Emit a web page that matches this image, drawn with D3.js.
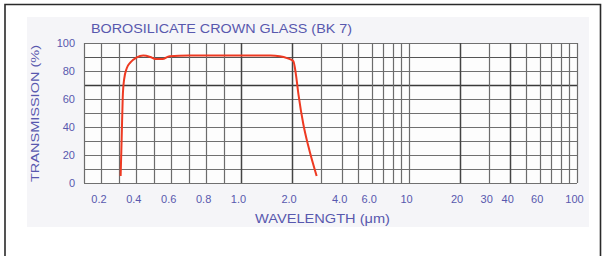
<!DOCTYPE html>
<html>
<head>
<meta charset="utf-8">
<script src="https://cdn.jsdelivr.net/npm/d3@7"></script>
<style>
  body { margin: 0; background: #fff; }
  svg { display: block; }
</style>
</head>
<body>
<div class="chart"></div>
<script>
/* global d3 */
(function () {
  var width = 610
  var height = 256

  // transmission curve
  var wavelength = [0.31, 0.316, 0.322, 0.33, 0.345, 0.365, 0.40, 0.44, 0.48, 0.51, 0.55, 0.59, 0.7, 1.0, 1.5, 1.7, 1.9, 2.05, 2.12, 2.2, 2.35, 2.52, 2.82]
  var transmission = [5, 32, 61, 74, 82, 86, 89.5, 91, 90, 88.6, 88.6, 90.6, 91, 91, 91, 90.6, 89, 87, 78, 63, 42, 26, 5]

  var linTicks = [0.2, 0.4, 0.6, 0.8, 1.0]
  var logTicks = [2, 4, 6, 10, 20, 30, 40, 60, 100]
  var yTicks = [0, 20, 40, 60, 80, 100]
  var yGrid = [0, 10, 20, 30, 40, 50, 60, 70, 80, 90, 100]
  var xGrid = [0.1, 0.2, 0.3, 0.4, 0.5, 0.6, 0.7, 0.8, 0.9, 1, 2, 3, 4, 5, 6, 7, 8, 9, 10, 20, 30, 40, 50, 60, 70, 80, 90, 100]

  var left = 84
  var split = 241
  var right = 577
  var top = 43
  var bottom = 183
  var textColor = '#5858ae'
  var font = 'Liberation Sans, Arial, sans-serif'

  // linear below 1 um, log above
  var xLin = d3.scaleLinear().domain([0.1, 1]).range([left, split])
  var xLog = d3.scaleLog().domain([1, 100]).range([split, right])
  var x = function (v) { return v <= 1 ? xLin(v) : xLog(v) }
  var y = d3.scaleLinear().domain([0, 100]).range([bottom, top])

  var svg = d3.select('.chart')
    .append('svg')
    .attr('width', width)
    .attr('height', height)

  // outer frame
  svg.append('path')
    .attr('d', 'M5,258 V4.5 H600.5 V258')
    .attr('fill', 'none')
    .attr('stroke', '#2a2a2a')
    .attr('stroke-width', 1.6)

  svg.append('rect')
    .attr('x', 27)
    .attr('y', 17)
    .attr('width', 562)
    .attr('height', 210)
    .attr('fill', '#f5f5f8')

  svg.append('rect')
    .attr('x', left)
    .attr('y', top)
    .attr('width', right - left)
    .attr('height', bottom - top)
    .attr('fill', '#fdfdfd')

  svg.selectAll('.hgrid')
    .data(yGrid)
    .enter()
    .append('line')
    .attr('x1', left)
    .attr('x2', right)
    .attr('y1', function (d) { return Math.round(y(d)) + 0.5 })
    .attr('y2', function (d) { return Math.round(y(d)) + 0.5 })
    .attr('stroke', function (d) { return d === 70 ? '#3a3a3a' : d === 90 ? '#555' : '#707070' })
    .attr('stroke-width', function (d) { return d === 70 ? 1.6 : 1.2 })

  svg.selectAll('.vgrid')
    .data(xGrid)
    .enter()
    .append('line')
    .attr('x1', function (d) { return Math.round(x(d)) + 0.5 })
    .attr('x2', function (d) { return Math.round(x(d)) + 0.5 })
    .attr('y1', top)
    .attr('y2', bottom)
    .attr('stroke', function (d) { return [1, 2, 20, 40].indexOf(d) >= 0 ? '#444' : '#6c6c6c' })
    .attr('stroke-width', function (d) { return [1, 2, 20, 40].indexOf(d) >= 0 ? 1.5 : 1.2 })

  // curve
  var line = d3.line()
    .x(function (d, i) { return x(wavelength[i]) })
    .y(function (d) { return y(d) })
    .curve(d3.curveMonotoneX)

  svg.append('path')
    .datum(transmission)
    .attr('d', line)
    .attr('fill', 'none')
    .attr('stroke', '#ee3a22')
    .attr('stroke-width', 2)
    .attr('stroke-linejoin', 'round')

  // tick labels
  var xAxisLin = d3.axisBottom(xLin).tickValues(linTicks).tickSize(0).tickFormat(d3.format('.1f'))
  var xAxisLog = d3.axisBottom(xLog).tickValues(logTicks).tickSize(0)
    .tickFormat(function (d) { return d < 10 ? d.toFixed(1) : String(d) })
  var yAxis = d3.axisLeft(y).tickValues(yTicks).tickSize(0)

  ;[xAxisLin, xAxisLog].forEach(function (ax) {
    var g = svg.append('g').attr('transform', 'translate(-3,' + (bottom + 9) + ')').call(ax)
    g.select('.domain').remove()
    g.selectAll('text').attr('fill', textColor).style('font-family', font).style('font-size', '11px')
  })

  var gy = svg.append('g').attr('transform', 'translate(' + (left - 6) + ',0)').call(yAxis)
  gy.select('.domain').remove()
  gy.selectAll('text').attr('fill', textColor).style('font-family', font).style('font-size', '11px')

  svg.append('text')
    .attr('x', 91)
    .attr('y', 33)
    .attr('textLength', 261)
    .attr('lengthAdjust', 'spacingAndGlyphs')
    .attr('fill', textColor)
    .style('font-family', font)
    .style('font-size', '12px')
    .text('BOROSILICATE CROWN GLASS (BK 7)')

  svg.append('text')
    .attr('x', 255)
    .attr('y', 223)
    .attr('textLength', 135)
    .attr('lengthAdjust', 'spacingAndGlyphs')
    .attr('fill', textColor)
    .style('font-family', font)
    .style('font-size', '12px')
    .text('WAVELENGTH (μm)')

  svg.append('text')
    .attr('transform', 'translate(39,182) rotate(-90)')
    .attr('textLength', 137)
    .attr('lengthAdjust', 'spacingAndGlyphs')
    .attr('fill', textColor)
    .style('font-family', font)
    .style('font-size', '11px')
    .text('TRANSMISSION (%)')
})()
</script>
</body>
</html>
